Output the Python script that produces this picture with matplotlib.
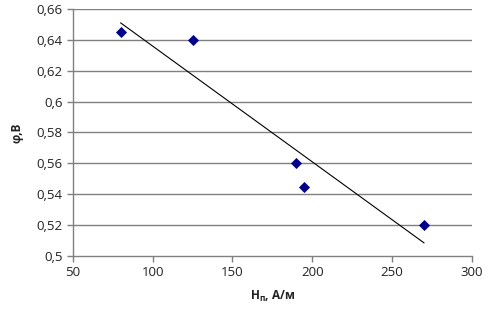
import matplotlib
matplotlib.use("Agg")
import matplotlib.pyplot as plt
import numpy as np
from matplotlib.ticker import FuncFormatter

H = [80, 125, 190, 195, 270]
phi = [0.645, 0.64, 0.56, 0.545, 0.52]
xticks = [50, 100, 150, 200, 250, 300]
yticks = [0.5, 0.52, 0.54, 0.56, 0.58, 0.6, 0.62, 0.64, 0.66]

plt.rcParams['font.family'] = ['Open Sans', 'DejaVu Sans']
plt.rcParams['mathtext.fontset'] = 'custom'
plt.rcParams['mathtext.rm'] = 'Open Sans:bold'

fig = plt.figure(figsize=(4.92, 3.11), dpi=100)
ax = fig.add_axes([0.148, 0.177, 0.811, 0.794])

grid_c = '#808080'
for y in yticks[1:]:
    ax.axhline(y, color=grid_c, lw=1.0, zorder=1)

ax.scatter(H, phi, marker='D', s=32, color='#00008b', zorder=3, linewidths=0)

coef = np.polyfit(H, phi, 1)
xs = np.array([min(H), max(H)])
ax.plot(xs, np.polyval(coef, xs), color='black', lw=0.8, zorder=2)

ax.set_xlim(50, 300)
ax.set_ylim(0.5, 0.66)
ax.set_xticks(xticks)
ax.set_yticks(yticks)

def fmt(v, pos):
    s = ('%.2f' % v).rstrip('0').rstrip('.')
    return s.replace('.', ',')
ax.yaxis.set_major_formatter(FuncFormatter(fmt))
ax.xaxis.set_major_formatter(FuncFormatter(lambda v, p: '%d' % v))

for s in ['top', 'right']:
    ax.spines[s].set_visible(False)
for s in ['left', 'bottom']:
    ax.spines[s].set_color(grid_c)
    ax.spines[s].set_linewidth(1.0)
ax.tick_params(axis='both', colors=grid_c, labelcolor='#222222', labelsize=9.5,
               length=4, width=1.0, direction='out')

ax.set_xlabel('H$_\\mathregular{п}$, А/м', fontsize=8.5, fontweight='bold', color='#222222', labelpad=7)
ax.set_ylabel('φ,В', fontsize=8.5, fontweight='bold', color='#222222', labelpad=9)

fig.savefig('out.png', dpi=100)
